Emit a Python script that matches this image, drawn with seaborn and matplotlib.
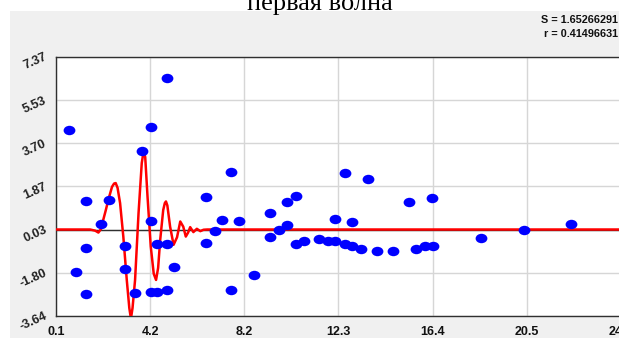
import matplotlib
matplotlib.use('Agg')
import matplotlib.pyplot as plt
import seaborn as sns
from matplotlib.path import Path
from matplotlib.transforms import Affine2D
from matplotlib.patches import Rectangle
from matplotlib.ticker import AutoMinorLocator

# точки измерений
pts_x = [0.66, 1.40, 1.40, 0.97, 1.40, 2.05, 2.42, 3.08, 3.08, 3.52,
         3.82, 4.20, 4.20, 4.20, 4.47, 4.47, 4.91, 4.91, 4.91, 5.20,
         6.60, 6.60, 6.98, 7.28, 7.70, 7.70, 8.02, 8.69, 9.40, 9.40,
         9.79, 10.12, 10.12, 10.53, 10.53, 10.84, 11.52, 11.90, 12.22, 12.22,
         12.62, 12.62, 12.95, 12.95, 13.34, 13.62, 14.04, 14.71, 15.42, 16.42,
         15.73, 16.10, 16.45, 18.55, 20.39, 22.46]
pts_y = [4.26, 1.25, -0.75, -1.76, -2.72, 0.28, 1.28, -0.65, -1.66, -2.66,
         3.37, 4.38, 0.40, -2.63, -0.58, -2.61, -0.58, -2.53, 6.46, -1.54,
         1.43, -0.55, -0.03, 0.45, 2.49, -2.52, 0.37, -1.91, 0.71, -0.28,
         0.00, 0.20, 1.20, 1.45, -0.57, -0.45, -0.38, -0.45, -0.47, 0.48,
         2.44, -0.59, 0.33, -0.69, -0.79, 2.17, -0.89, -0.89, 1.18, 1.35,
         -0.79, -0.69, -0.65, -0.31, -0.01, 0.28]

# волна (красная линия)
wave_x = [0.1, 1.58, 1.80, 1.94, 2.05, 2.15, 2.26, 2.37, 2.53, 2.62,
          2.69, 2.77, 2.88, 3.02, 3.17, 3.28, 3.35, 3.42, 3.53, 3.68,
          3.82, 3.88, 3.92, 3.97, 4.07, 4.21, 4.34, 4.44, 4.53, 4.62,
          4.75, 4.82, 4.87, 4.93, 5.05, 5.20, 5.35, 5.49, 5.62, 5.73,
          5.83, 5.92, 6.06, 6.21, 6.36, 6.50, 6.66, 24.6]
wave_y = [0.03, 0.03, -0.02, -0.10, 0.05, 0.44, 0.85, 1.29, 1.84, 1.98,
          2.00, 1.80, 1.15, -0.27, -2.11, -3.30, -3.75, -3.30, -2.11, 0.72,
          2.85, 3.22, 3.30, 3.10, 1.43, -0.69, -1.85, -2.11, -1.60, -0.41,
          0.85, 1.15, 1.22, 1.05, 0.15, -0.62, -0.30, 0.37, 0.15, -0.27,
          -0.10, 0.13, -0.08, 0.06, -0.04, 0.02, 0.03, 0.03]

x_ticks = [0.1, 4.183, 8.267, 12.35, 16.433, 20.517, 24.6]
x_labels = ['0.1', '4.2', '8.2', '12.3', '16.4', '20.5', '24.6']
y_ticks = [-3.64, -1.80, 0.03, 1.87, 3.70, 5.53, 7.37]
y_labels = ['-3.64', '-1.80', '0.03', '1.87', '3.70', '5.53', '7.37']
zero_level = 0.03

title = 'первая волна'
stat_S = 'S = 1.65266291'
stat_r = 'r = 0.41496631'

sns.set_style('white')
plt.rcParams['font.family'] = ['Liberation Sans', 'DejaVu Sans']

fig = plt.figure(figsize=(6.19, 3.38), dpi=100)
fig.patch.set_facecolor('white')
# серая подложка
fig.add_artist(Rectangle((10 / 619, 0), 1, 1 - 11 / 338, transform=fig.transFigure,
                         facecolor='#f0f0f0', edgecolor='none', zorder=-5))

ax = fig.add_axes([56 / 619, 22 / 338, 564.8 / 619, 259.5 / 338])
ax.set_facecolor('white')

ax.axhline(zero_level, color='#303030', lw=1, zorder=2)
sns.lineplot(x=wave_x, y=wave_y, ax=ax, color='#ff0000', lw=1.8,
             estimator=None, sort=False, zorder=3)

ellipse = Path.unit_circle().transformed(Affine2D().scale(1.25, 1.0))
sns.scatterplot(x=pts_x, y=pts_y, ax=ax, marker=ellipse, s=72,
                color='#0000ff', linewidth=0, zorder=4)

ax.set_xlim(0.1, 24.6)
ax.set_ylim(-3.64, 7.37)
ax.set_xticks(x_ticks)
ax.set_xticklabels(x_labels)
ax.set_yticks(y_ticks)
ax.set_yticklabels(y_labels)
ax.xaxis.set_minor_locator(AutoMinorLocator(4))
ax.yaxis.set_minor_locator(AutoMinorLocator(5))

ax.grid(True, which='major', color='#d6d6d6', lw=1)
ax.set_axisbelow(True)
for sp in ax.spines.values():
    sp.set_color('#303030')
    sp.set_linewidth(1)

ax.tick_params(which='major', direction='out', length=4.5, width=1, color='#303030')
ax.tick_params(which='minor', direction='out', length=2.5, width=1, color='#303030')
ax.tick_params(axis='x', which='major', pad=2.5)
ax.tick_params(axis='y', which='major', pad=2.5)
for lab in ax.get_xticklabels():
    lab.set_fontweight('bold')
    lab.set_fontsize(9)
    lab.set_color('#111111')
plt.setp(ax.get_yticklabels(), rotation=24, rotation_mode='anchor',
         ha='right', va='center', fontweight='bold', fontsize=9, color='#222222')
ax.set_xlabel('')
ax.set_ylabel('')

fig.text(319.5 / 619, 1 - 10 / 338, title, ha='center', va='baseline',
         fontsize=19, family=['Liberation Serif', 'DejaVu Serif'], color='black')
fig.text(618 / 619, 1 - 20 / 338, stat_S, ha='right', va='center',
         fontsize=7.8, fontweight='bold', color='#111111')
fig.text(618 / 619, 1 - 34 / 338, stat_r, ha='right', va='center',
         fontsize=7.8, fontweight='bold', color='#111111')

fig.savefig('out.png', dpi=100)
